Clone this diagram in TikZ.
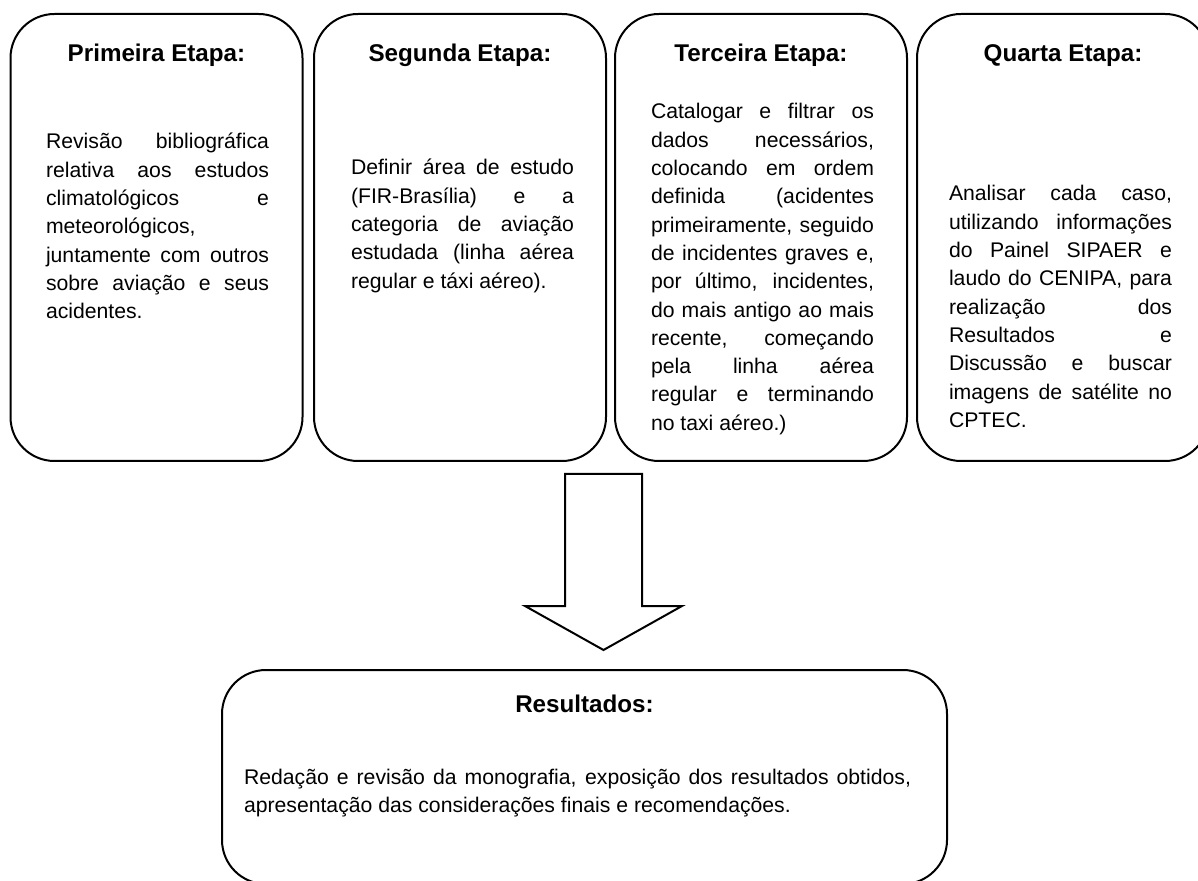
\documentclass[tikz,border=0pt]{standalone}
\usepackage{fontspec}
\setmainfont{Liberation Sans}
\hyphenpenalty=10000
\exhyphenpenalty=10000
\pretolerance=-1
\tolerance=10000
\hbadness=10000
\begin{document}
\begin{tikzpicture}[x=0.5pt,y=-0.5pt,line width=1pt,
                    etapa box/.style={draw,rectangle,rounded corners=22pt,minimum width=146pt,minimum height=223.5pt,inner sep=0pt},
                    titulo/.style={anchor=base,inner sep=0pt,font=\fontsize{12.1}{14}\selectfont\bfseries},
                    texto/.style={anchor=base west,inner sep=0pt,text width=111.5pt,align=justify,font=\fontsize{10.6}{14.15}\selectfont}]

  \useasboundingbox (0,0) rectangle (1198,881);

  \node[etapa box] (e1) at (156.5,237.5) {};
  \node[etapa box] (e2) at (460,237.5) {};
  \node[etapa box] (e3) at (761,237.5) {};
  \node[etapa box] (e4) at (1063,237.5) {};

  \node[titulo] (t1) at ([yshift=-24.5pt]e1.north) {Primeira Etapa:};
  \node[titulo] (t2) at ([yshift=-24.5pt]e2.north) {Segunda Etapa:};
  \node[titulo] (t3) at ([yshift=-24.5pt]e3.north) {Terceira Etapa:};
  \node[titulo] (t4) at ([yshift=-24.5pt]e4.north) {Quarta Etapa:};

  \node[texto] (c1) at (45,149) {Revisão bibliográfica\linebreak relativa aos estudos\linebreak climatológicos e\linebreak meteorológicos,\linebreak juntamente com outros\linebreak sobre aviação e seus\linebreak acidentes.};
  \node[texto] (c2) at (350,175) {Definir área de estudo\linebreak (FIR-Brasília) e a\linebreak categoria de aviação\linebreak estudada (linha aérea\linebreak regular e táxi aéreo).};
  \node[texto] (c3) at (650,119) {Catalogar e filtrar os\linebreak dados necessários,\linebreak colocando em ordem\linebreak definida (acidentes\linebreak primeiramente, seguido\linebreak de incidentes graves e,\linebreak por último, incidentes,\linebreak do mais antigo ao mais\linebreak recente, começando\linebreak pela linha aérea\linebreak regular e terminando\linebreak no taxi aéreo.)};
  \node[texto] (c4) at (948,201) {Analisar cada caso,\linebreak utilizando informações\linebreak do Painel SIPAER e\linebreak laudo do CENIPA, para\linebreak realização dos\linebreak Resultados e\linebreak Discussão e buscar\linebreak imagens de satélite no\linebreak CPTEC.};

  \draw (565,474) -- (642,474) -- (642,606) -- (682,606) -- (603.5,650) -- (525,606) -- (565,606) -- cycle;

  \node[etapa box,minimum width=362.5pt,minimum height=107pt] (res) at (584.5,777) {};
  \node[titulo] (tr) at ([yshift=-21.5pt]res.north) {Resultados:};
  \node[texto,text width=333.5pt] (cr) at (243,784) {Redação e revisão da monografia, exposição dos resultados obtidos,\linebreak apresentação das considerações finais e recomendações.};
\end{tikzpicture}
\end{document}
